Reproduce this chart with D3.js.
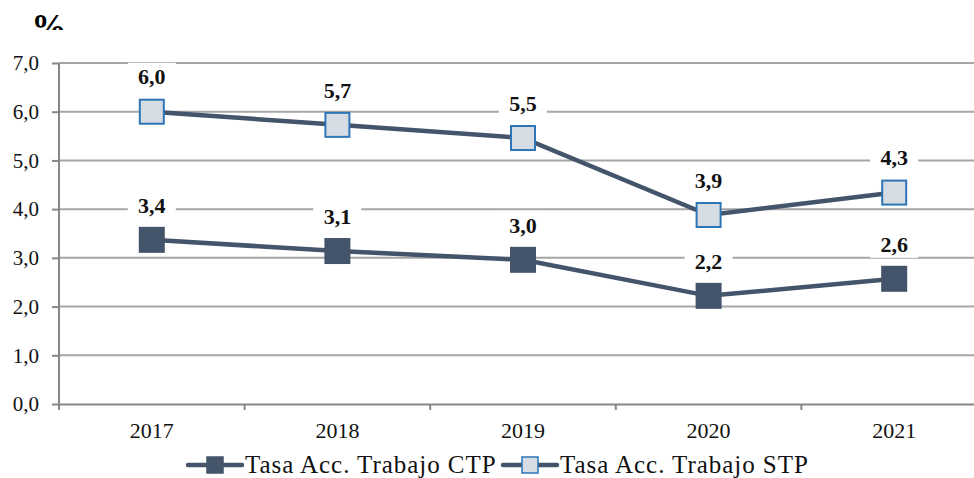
<!DOCTYPE html>
<html>
<head>
<meta charset="utf-8">
<script src="https://cdn.jsdelivr.net/npm/d3@7"></script>
<style>
  html, body { margin: 0; padding: 0; background: #fff; overflow: hidden; }
  text { font-family: "Liberation Serif", "DejaVu Serif", serif; }
</style>
</head>
<body>
<script>
const WIDTH = 974
const HEIGHT = 478

// data
const years = ["2017", "2018", "2019", "2020", "2021"]
const ctpValues = [3.37, 3.14, 2.96, 2.22, 2.57]
const stpValues = [6.0, 5.73, 5.46, 3.88, 4.34]
const yTicks = [0, 1, 2, 3, 4, 5, 6, 7]
const seriesNames = ["Tasa Acc. Trabajo CTP", "Tasa Acc. Trabajo STP"]

const LINE_COLOR = "#44546a"
const GRID_COLOR = "#a6a6a6"
const MARK = 24

var fmt = function(v){ return d3.format(".1f")(v).replace(".", ","); }

var svg = d3.select("body").append("svg")
    .attr("width", WIDTH)
    .attr("height", HEIGHT);

var x = d3.scaleBand().domain(years).range([59, 987]);
var y = d3.scaleLinear().domain([0, 7]).range([404, 63]);

// "%" title, clipped at the bottom like in the original
svg.append("clipPath").attr("id", "pctClip")
    .append("rect").attr("x", 0).attr("y", 0).attr("width", 120).attr("height", 30);
svg.append("text")
    .attr("x", 49).attr("y", 39)
    .attr("text-anchor", "middle")
    .attr("clip-path", "url(#pctClip)")
    .style("font-size", "35px").style("font-weight", "bold")
    .text("%");

// gridlines
svg.append("g").selectAll("line").data(yTicks.slice(1)).join("line")
    .attr("x1", 59).attr("x2", WIDTH)
    .attr("y1", d => y(d)).attr("y2", d => y(d))
    .attr("stroke", GRID_COLOR).attr("stroke-width", 2);

// y axis
var yAxis = svg.append("g").attr("transform", "translate(59,0)")
    .call(d3.axisLeft(y).tickValues(yTicks).tickFormat(fmt).tickSize(7).tickPadding(13));
yAxis.select(".domain").attr("stroke", "#868686").attr("stroke-width", 2)
    .attr("d", "M0," + (y(0) + 6) + "V" + y(7));
yAxis.selectAll(".tick line").attr("stroke", "#868686").attr("stroke-width", 2);
yAxis.selectAll(".tick text").style("font-size", "21px").attr("fill", "#111");

// x axis
var xAxis = svg.append("g").attr("transform", "translate(0,404)")
    .call(d3.axisBottom(x).tickSizeOuter(0).tickSize(0).tickPadding(18));
xAxis.select(".domain").attr("stroke", "#868686").attr("stroke-width", 2);
xAxis.selectAll(".tick text").style("font-size", "22px").attr("fill", "#111");
xAxis.selectAll(".bound").data(years.slice(1)).join("line")
    .attr("x1", d => x(d)).attr("x2", d => x(d))
    .attr("y1", 0).attr("y2", 6)
    .attr("stroke", "#868686").attr("stroke-width", 2);

var cx = d => x(d) + x.bandwidth() / 2;

var drawSeries = function(values, fill, stroke){
    var pts = years.map((yr, i) => [cx(yr), y(values[i])]);
    svg.append("path")
        .attr("d", d3.line()(pts))
        .attr("fill", "none").attr("stroke", LINE_COLOR).attr("stroke-width", 4.5);
    svg.append("g").selectAll("rect").data(pts).join("rect")
        .attr("x", d => d[0] - MARK / 2).attr("y", d => d[1] - MARK / 2)
        .attr("width", MARK).attr("height", MARK)
        .attr("fill", fill).attr("stroke", stroke).attr("stroke-width", 2);

    var labels = svg.append("g").selectAll("g").data(pts).join("g")
        .attr("transform", d => "translate(" + d[0] + "," + (d[1] - 35) + ")");
    labels.append("rect")
        .attr("x", -24).attr("y", -14).attr("width", 48).attr("height", 28)
        .attr("fill", "#fff");
    labels.append("text")
        .attr("text-anchor", "middle").attr("dy", "0.35em")
        .style("font-size", "22px").style("font-weight", "bold").attr("fill", "#111")
        .text((d, i) => fmt(values[i]));
}

drawSeries(stpValues, "#d6dce4", "#2e75b6");
drawSeries(ctpValues, LINE_COLOR, LINE_COLOR);

// legend
var legend = svg.append("g").attr("transform", "translate(0,465)");
var legendItems = [
    {name: seriesNames[0], x: 188, fill: LINE_COLOR, stroke: LINE_COLOR},
    {name: seriesNames[1], x: 503, fill: "#d6dce4", stroke: "#2e75b6"}
];
legendItems.forEach(function(it){
    legend.append("line")
        .attr("x1", it.x).attr("x2", it.x + 54).attr("y1", 0).attr("y2", 0)
        .attr("stroke", LINE_COLOR).attr("stroke-width", 4.5).attr("stroke-linecap", "round");
    legend.append("rect")
        .attr("x", it.x + 19).attr("y", -8).attr("width", 16).attr("height", 16)
        .attr("fill", it.fill).attr("stroke", it.stroke).attr("stroke-width", 1.5);
    legend.append("text")
        .attr("x", it.x + 57).attr("y", 8)
        .style("font-size", "25px").style("letter-spacing", "0.95px").attr("fill", "#111")
        .text(it.name);
});
</script>
</body>
</html>
